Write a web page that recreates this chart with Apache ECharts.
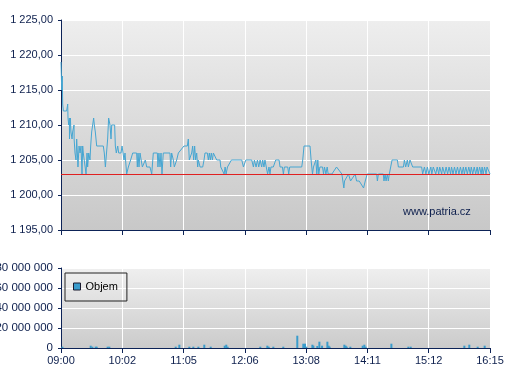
<!DOCTYPE html>
<html><head><meta charset="utf-8">
<script src="https://cdn.jsdelivr.net/npm/echarts@6/dist/echarts.min.js"></script>
<style>html,body{margin:0;padding:0;background:#fff}#c{width:507px;height:380px}</style>
</head><body><div id="c"></div>
<script>
const tickLabels = ['09:00','10:02','11:05','12:06','13:08','14:11','15:12','16:15'];
const sessionMinutes = 435;
const refPrice = 1203;
const priceMinutes = [0,0.7,1.35,1.5,1.7,2.4,5.7,6.8,7.1,7.8,8.5,8.6,9.5,10.1,11.2,11.8,13.2,13.3,14.2,15.2,15.9,16.6,17.2,18.3,19.3,20.3,21.3,22,22.6,24,25.4,26.4,27,28.1,29.4,30.1,31.1,32.1,33.1,33.8,34.8,36.2,42.9,43.9,45,47,47.3,48.3,49.7,50.7,51.4,54.4,55.1,56.1,57.5,58.5,60.8,61.9,62.9,63.9,64.9,66.6,68.3,70.6,72.7,73.7,76.7,77.4,78.1,79.1,80.1,81.8,82.5,84.2,85.5,86.9,88.6,90.2,92,93.6,97.7,98.3,99.3,100.4,101.4,102.4,103.7,110.5,111.2,112.2,113.9,114.9,117.3,119,124.7,128.1,129.1,130.1,132.5,133.5,134.5,135.5,136.5,137.6,138.6,139.3,141,143.7,145,146,148.4,149.4,150.4,151.4,152.4,153.5,154.5,155.5,156.5,157.9,159.6,161.3,162,164,165.4,166.4,167.4,168.8,170.8,172.8,183.3,185,187.4,193.4,195.1,196.1,197.8,199.2,200.5,201.9,203.5,204.5,205.8,206.8,208.5,209.5,210.9,211.9,212.9,215.3,217.7,221.1,222.1,224.5,225.5,226.5,229.9,230.9,231.9,238.3,244.1,245.1,246.4,252.5,253.6,255,256,257.7,258.4,259.4,260.4,261.4,262.5,265.2,266.2,267.2,268.6,269.9,270.9,274.7,279.4,284.8,286.5,286.8,287.5,289.5,291.5,293.6,295.6,298.3,299.7,302.4,304.4,306.8,308.5,310.5,320.1,320.8,321.8,326.8,327.5,328.6,329.6,330.9,331.9,332.9,334.6,335.7,341.1,342.1,347.2,348.2,349.5,351.2,352.2,353.9,355.6,356.6,365.7,366.7,368.5,370,371.5,373,375,376,377.5,379,380,381.5,383,384,386,387,389,390.5,392,393.5,395,396,397.5,399,400.5,402,403.5,405,406.5,408,409,410.5,412,413.5,415,416,417.5,419,420.5,422,423,424.5,426,427,428,429.5,431,432,433.5,435];
const prices = [1219,1215,1217,1215,1213,1212,1212,1213,1211,1210,1211,1208,1211,1209,1208,1209,1210,1208,1206,1205,1208,1206,1204,1207,1206,1207,1203,1207,1206,1206,1203,1206,1204,1206,1205,1207,1209,1210,1211,1210,1209,1207,1207,1206,1204,1204,1208,1211,1210,1208,1210,1210,1207,1206,1207,1206,1206,1207,1206,1205,1206,1203,1204,1205,1206,1206,1206,1204,1206,1204,1206,1206,1204,1204,1205,1204,1204,1204,1203,1206,1206,1204,1206,1204,1206,1203,1206,1206,1204,1206,1205,1204,1205,1206,1207,1207,1208,1205,1206,1207,1205,1207,1205,1206,1204,1205,1204,1204,1205,1206,1206,1205,1206,1205,1206,1205,1206,1206,1206,1205,1205,1205,1204,1204,1203,1204,1203,1204,1204,1205,1205,1204,1205,1205,1204,1205,1204,1205,1204,1205,1204,1205,1204,1205,1205,1203,1204,1203,1204,1204,1205,1205,1204,1204,1203,1204,1204,1203,1204,1204,1204,1205,1207,1207,1205,1203,1204,1204,1205,1203,1205,1203,1204,1204,1203,1204,1203,1204,1203,1203,1204,1203,1203,1201,1202,1202,1203,1202,1202,1203,1202,1202,1202,1201,1202,1203,1203,1202,1203,1203,1202,1203,1202,1203,1202,1203,1203,1205,1205,1204,1204,1205,1204,1205,1204,1205,1205,1204,1204,1203,1204,1203,1204,1203,1204,1203,1204,1204,1203,1204,1203,1204,1203,1204,1203,1204,1203,1204,1203,1204,1203,1204,1203,1204,1203,1204,1203,1204,1203,1204,1203,1204,1203,1204,1203,1204,1203,1204,1203,1204,1203,1204,1203,1204,1203,1204,1204,1203];
const volMinutes = [1.4,30.1,31.8,35.2,36.2,47.3,49,116.3,120,130.1,134.2,139.3,145.3,151.8,166,167.6,169,202.1,209.2,210.6,215.3,225.4,239.6,245.7,247.4,248.8,254.9,255.9,259.9,262,264.7,270.1,271.4,272.4,287.3,288.7,289.7,293.4,305.9,307.6,308.9,335,352.2,354.6,409,414,422.5,429.6];
const volumes = [1.3e6,2.3e6,1.3e6,1.3e6,1.3e6,1.3e6,1.3e6,1.3e6,3.3e6,1.3e6,1.3e6,1.3e6,3.3e6,1.3e6,2.3e6,3.3e6,1.3e6,1.3e6,2.3e6,1.3e6,1.3e6,1.3e6,12.3e6,4.3e6,4.3e6,1.3e6,3.3e6,2.3e6,2e6,6.3e6,2.3e6,6.3e6,2.3e6,1.3e6,3.3e6,2.3e6,1.3e6,1.3e6,2.3e6,3.3e6,1.3e6,4.3e6,1.3e6,1.3e6,2.3e6,3.3e6,1.3e6,2.3e6];

function groupNum(n){ return String(Math.round(n)).replace(/\B(?=(\d{3})+(?!\d))/g,' '); }
const navy = '#0d2357';
const txt = '#0d1f4d';
const font = 'Liberation Sans, Arial, sans-serif';
const bgGrad = {type:'linear',x:0,y:0,x2:0,y2:1,colorStops:[{offset:0,color:'#eeeeee'},{offset:1,color:'#c8c8c8'}]};
const bgGrad2 = {type:'linear',x:0,y:0,x2:0,y2:1,colorStops:[{offset:0,color:'#efefef'},{offset:1,color:'#cbcbcb'}]};

const chart = echarts.init(document.getElementById('c'), null, {renderer:'canvas'});
const dispAxis = (grid, showLabels) => ({
  type:'value', gridIndex:grid, min:0, max:tickLabels.length-1, interval:1,
  axisLine:{show:true, onZero:false, lineStyle:{color:navy, width:1}},
  axisTick:{show:true, length:5, lineStyle:{color:navy}},
  axisLabel:{show:showLabels, margin:7, color:txt, fontSize:11, fontFamily:font, formatter:v=>tickLabels[Math.round(v)]},
  splitLine:{show:true, lineStyle:{color:'#ffffff', width:1}}
});
const dataAxis = (grid) => ({type:'value', gridIndex:grid, min:0, max:sessionMinutes, show:false, splitLine:{show:false}});
chart.setOption({
  animation:false,
  grid:[
    {left:61, top:20, width:429, height:210, show:true, backgroundColor:bgGrad, borderWidth:0, containLabel:false, outerBoundsMode:'none'},
    {left:61, top:268, width:429, height:80, show:true, backgroundColor:bgGrad2, borderWidth:0, containLabel:false, outerBoundsMode:'none'}
  ],
  xAxis:[dispAxis(0,false), dataAxis(0), dispAxis(1,true), dataAxis(1)],
  yAxis:[
    {type:'value', gridIndex:0, min:1195, max:1225, interval:5,
     axisLine:{show:true, lineStyle:{color:navy}}, axisTick:{show:true, length:3, lineStyle:{color:navy}},
     axisLabel:{color:txt, fontSize:11, fontFamily:font, margin:8, formatter:v=>groupNum(v)+',00'},
     splitLine:{lineStyle:{color:'#ffffff', width:1}}},
    {type:'value', gridIndex:1, min:0, max:80000000, interval:20000000,
     axisLine:{show:true, lineStyle:{color:navy}}, axisTick:{show:true, length:3, lineStyle:{color:navy}},
     axisLabel:{color:txt, fontSize:11.5, fontFamily:font, margin:8, formatter:v=>groupNum(v)},
     splitLine:{lineStyle:{color:'#ffffff', width:1}}}
  ],
  legend:{
    data:[{name:'Objem', itemStyle:{color:'#3a9ccc', borderColor:'#1a1a2e', borderWidth:1}}],
    left:65, top:273, orient:'vertical', icon:'rect', itemWidth:7, itemHeight:7, itemGap:4,
    padding:[8,9,9,8], borderColor:'#222222', borderWidth:1, backgroundColor:'transparent',
    textStyle:{color:'#000000', fontSize:11, fontFamily:font}, selectedMode:false
  },
  graphic:[{type:'text', left:403, top:206, z:50, style:{text:'www.patria.cz', fill:txt, fontSize:11, fontFamily:font}}],
  series:[
    {type:'line', name:'ref', xAxisIndex:1, yAxisIndex:0, data:[], z:1,
     markLine:{silent:true, symbol:['none','none'], label:{show:false},
       lineStyle:{color:'#e02020', width:1, type:'solid'}, data:[{yAxis:refPrice}]}},
    {type:'line', name:'Cena', xAxisIndex:1, yAxisIndex:0, z:3, showSymbol:false, symbol:'none',
     lineStyle:{color:'#46a6d2', width:1}, itemStyle:{color:'#46a6d2'},
     data:priceMinutes.map((m,i)=>[m, prices[i]])},
    {type:'bar', name:'Objem', xAxisIndex:3, yAxisIndex:1, barWidth:2, itemStyle:{color:'#3a9ccc'},
     data:volMinutes.map((m,i)=>[m, volumes[i]])}
  ]
});
</script></body></html>
